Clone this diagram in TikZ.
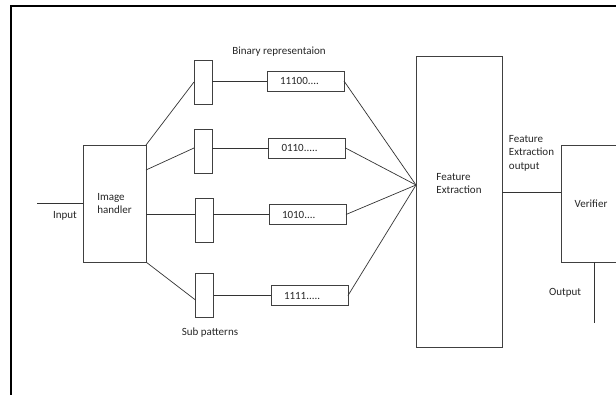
\documentclass[tikz,border=0pt]{standalone}
\usepackage{fontspec}
\setmainfont{Carlito}
\begin{document}
\begin{tikzpicture}[x=1pt, y=-1pt,
		box/.style={draw=black!75, fill=white, shape=rectangle, line width=0.8pt, inner sep=0pt, outer sep=0pt},
		txt/.style={font=\fontsize{11}{13.5}\selectfont, text=black!85, inner sep=0pt, align=left},
		bin/.style={minimum height=20pt, text width=51pt, inner xsep=13pt},
		sub/.style={minimum width=18pt, minimum height=44pt},
		wire/.style={draw=black!80, line width=0.7pt}]
		\useasboundingbox (0,0) rectangle (616,394);
		\clip (0,0) rectangle (616,394);
		\draw[line width=2.5pt] (11,400) -- (11,6) -- (620,6);
		\node [box, txt, minimum width=63pt, minimum height=117pt] (handler) at (114.5,203.5) {Image\\handler};
		\node [box, sub] (sub1) at (203,82) {};
		\node [box, sub] (sub2) at (203,151) {};
		\node [box, sub] (sub3) at (204,220) {};
		\node [box, sub] (sub4) at (204.5,295) {};
		\node [box, txt, bin] (bin1) at (305.5,81) {11100....};
		\node [box, txt, bin] (bin2) at (307,148) {0110.....};
		\node [box, txt, bin] (bin3) at (307.5,214.5) {1010....};
		\node [box, txt, bin] (bin4) at (309.5,295.5) {1111.....};
		\node [box, minimum width=86pt, minimum height=291pt, label={[txt, yshift=18pt]center:Feature\\Extraction}] (fe) at (459,201.5) {};
		\node [box, txt, minimum width=60pt, minimum height=117pt] (verif) at (591,203.5) {Verifier};
		\node [txt] (input) at (65,216) {Input};
		\node [txt] (binlbl) at (279,52) {Binary representaion};
		\node [txt] (sublbl) at (210,333) {Sub patterns};
		\node [txt] (felbl) at (531.5,153) {Feature\\Extraction\\output};
		\node [txt] (outlbl) at (565,293) {Output};
		\coordinate (in) at (37,203.5);
		\coordinate (hub) at ([yshift=16.5pt]fe.west);
		\coordinate (out) at (594,323);
		\draw [wire] (in) -- (handler.west);
		\draw [wire] (handler.north east) -- (sub1.west);
		\draw [wire] ([yshift=-25pt]handler.north east) -- (sub2.west |- bin2.west);
		\draw [wire] (handler.east |- bin3.west) -- (sub3.west |- bin3.west);
		\draw [wire] (handler.south east) -- ([yshift=-5pt]sub4.west);
		\foreach \i in {1,...,4} {
			\draw [wire] (sub\i.east |- bin\i.west) -- (bin\i.west);
			\draw [wire] (bin\i.east) -- (hub);
		}
		\draw [wire] ([yshift=9.5pt]fe.east) -- ([yshift=9.5pt]fe.east -| verif.west);
		\draw [wire] (out |- verif.south) -- (out);
	\end{tikzpicture}
\end{document}
